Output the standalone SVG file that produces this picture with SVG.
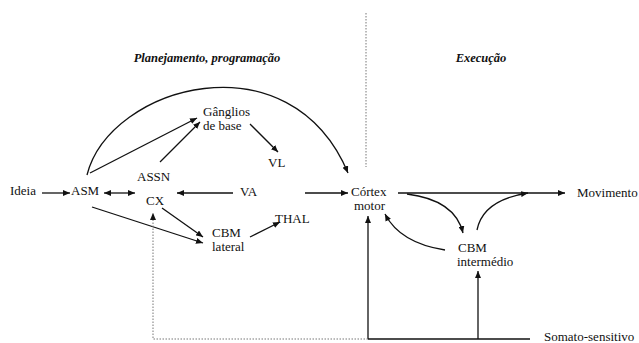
<svg xmlns="http://www.w3.org/2000/svg" width="639" height="343" viewBox="0 0 639 343">
<style>
text{font-family:"Times New Roman","Liberation Serif","DejaVu Serif",serif;font-size:13px;fill:#111;}
.t{font-weight:bold;font-style:italic;font-size:12.5px;}
.c{fill:none;stroke:#111;stroke-width:1.3;}
.a{marker-end:url(#ah);}
.d{fill:none;stroke:#777;stroke-width:1;stroke-dasharray:1.5 1.5;}
</style>
<defs>
<marker id="ah" markerUnits="userSpaceOnUse" markerWidth="8" markerHeight="6" refX="7" refY="3" orient="auto-start-reverse">
<path d="M0,0 L7,3 L0,6 z" fill="#111"/>
</marker>
</defs>
<rect width="639" height="343" fill="#fff"/>
<text class="t" x="207" y="62" text-anchor="middle">Planejamento, programação</text>
<text class="t" x="481" y="62" text-anchor="middle">Execução</text>
<line class="d" x1="366" y1="13" x2="366" y2="167"/>
<g id="connectors">
<path class="c a" d="M87,175 C110,85 290,35 348,173"/>
<line class="c a" x1="42" y1="193" x2="70" y2="193"/>
<line class="c a" x1="104" y1="193" x2="135" y2="193" marker-start="url(#ah)"/>
<line class="c a" x1="90" y1="173" x2="197" y2="118"/>
<line class="c a" x1="160" y1="162" x2="200" y2="122"/>
<line class="c a" x1="250" y1="124" x2="278" y2="152"/>
<line class="c a" x1="233" y1="193" x2="177" y2="193"/>
<line class="c a" x1="305" y1="193" x2="348" y2="193"/>
<line class="c a" x1="92" y1="207" x2="203" y2="243"/>
<line class="c a" x1="162" y1="208" x2="203" y2="237"/>
<line class="c a" x1="250" y1="237" x2="280" y2="222"/>
<line class="c a" x1="398" y1="193" x2="565" y2="193"/>
<path class="c a" d="M407,194 Q455,200 463,233"/>
<path class="c a" d="M477,230 Q483,200 528,193"/>
<path class="c a" d="M445,250 Q400,243 385,214"/>
<line class="c a" x1="368" y1="339" x2="368" y2="216"/>
<line class="c a" x1="478" y1="339" x2="478" y2="271"/>
<line class="c" x1="368" y1="339" x2="530" y2="339"/>
<polyline class="d a" points="368,339 153,339 153,213"/>
</g>
<g id="ideia"><text x="10" y="195">Ideia</text></g>
<g id="asm"><text x="71" y="195">ASM</text></g>
<g id="assn"><text x="137" y="181">ASSN</text></g>
<g id="cx"><text x="146" y="205">CX</text></g>
<g id="va"><text x="240" y="196">VA</text></g>
<g id="vl"><text x="268" y="167">VL</text></g>
<g id="thal"><text x="275" y="223">THAL</text></g>
<g id="ganglios"><text x="203" y="116">Gânglios</text><text x="203" y="130">de base</text></g>
<g id="cbm-lateral"><text x="212" y="237">CBM</text><text x="212" y="251">lateral</text></g>
<g id="cortex-motor"><text x="351" y="196">Córtex</text><text x="354" y="210">motor</text></g>
<g id="cbm-intermedio"><text x="458" y="252">CBM</text><text x="457" y="266">intermédio</text></g>
<g id="movimento"><text x="577" y="197">Movimento</text></g>
<g id="somato"><text x="544" y="341">Somato-sensitivo</text></g>
</svg>
